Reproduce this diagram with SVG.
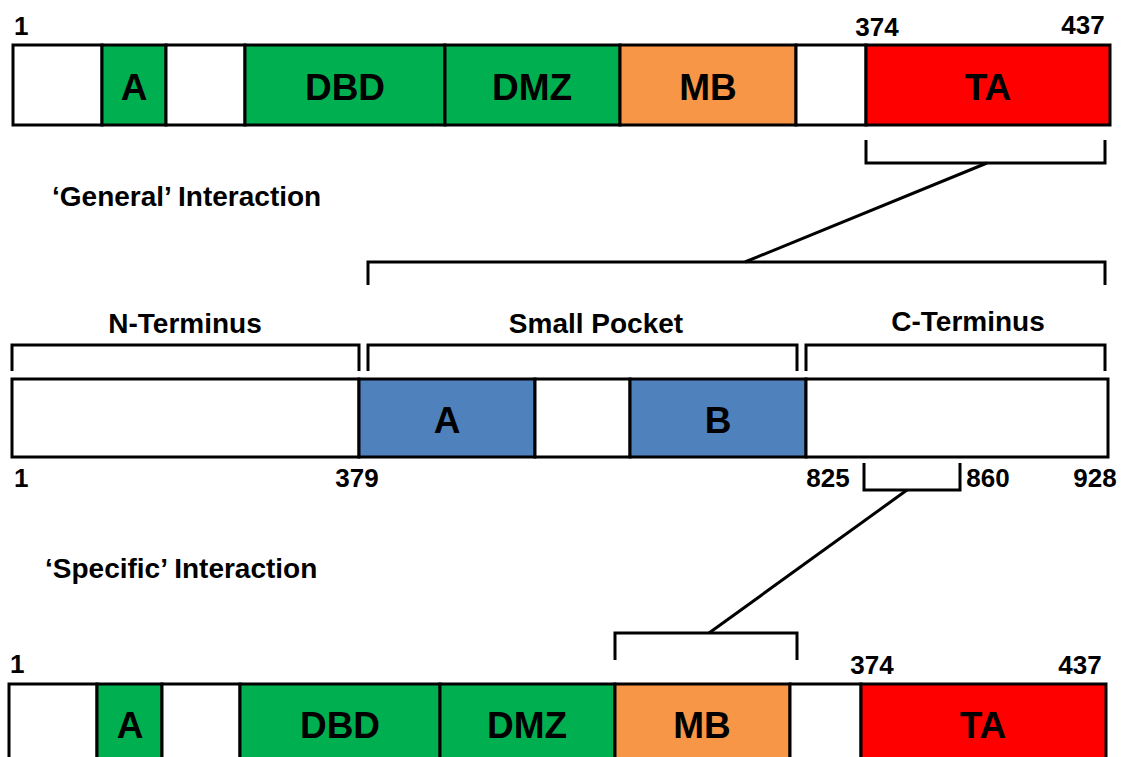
<svg xmlns="http://www.w3.org/2000/svg" width="1121" height="757" viewBox="0 0 1121 757">
<style>
.seg{stroke:#000;stroke-width:3}
.w{fill:#fff}.g{fill:#00B050}.o{fill:#F79646}.r{fill:#FF0000}.b{fill:#4F81BD}
.lbl{font-family:"Liberation Sans",Arial,sans-serif;font-weight:bold;font-size:37px;text-anchor:middle;fill:#000}
.num{font-family:"Liberation Sans",Arial,sans-serif;font-weight:bold;font-size:26px;fill:#000}
.t{font-family:"Liberation Sans",Arial,sans-serif;font-weight:bold;font-size:28px;fill:#000}
.br{fill:none;stroke:#000;stroke-width:3}
</style>
<rect width="1121" height="757" fill="#fff"/>
<g id="top-protein">
<rect class="seg w" x="13" y="45" width="89" height="80"/>
<rect class="seg g" x="102" y="45" width="64" height="80"/>
<rect class="seg w" x="166" y="45" width="79" height="80"/>
<rect class="seg g" x="245" y="45" width="200" height="80"/>
<rect class="seg g" x="445" y="45" width="175" height="80"/>
<rect class="seg o" x="620" y="45" width="176" height="80"/>
<rect class="seg w" x="796" y="45" width="70" height="80"/>
<rect class="seg r" x="866" y="45" width="244" height="80"/>
<text class="lbl" x="134" y="100">A</text>
<text class="lbl" x="345" y="100">DBD</text>
<text class="lbl" x="532" y="100">DMZ</text>
<text class="lbl" x="708" y="100">MB</text>
<text class="lbl" x="988" y="100">TA</text>
<text class="num" x="14" y="35">1</text>
<text class="num" x="877" y="36" text-anchor="middle">374</text>
<text class="num" x="1083" y="34" text-anchor="middle">437</text>
</g>
<g id="middle-protein">
<rect class="seg w" x="12" y="379" width="347" height="78"/>
<rect class="seg b" x="359" y="379" width="176" height="78"/>
<rect class="seg w" x="535" y="379" width="95" height="78"/>
<rect class="seg b" x="630" y="379" width="176" height="78"/>
<rect class="seg w" x="806" y="379" width="302" height="78"/>
<text class="lbl" x="447" y="433">A</text>
<text class="lbl" x="718" y="433">B</text>
<text class="num" x="14" y="487">1</text>
<text class="num" x="357" y="487" text-anchor="middle">379</text>
<text class="num" x="828" y="487" text-anchor="middle">825</text>
<text class="num" x="988" y="487" text-anchor="middle">860</text>
<text class="num" x="1095" y="487" text-anchor="middle">928</text>
<text class="t" x="185" y="333" text-anchor="middle">N-Terminus</text>
<text class="t" x="596" y="333" text-anchor="middle">Small Pocket</text>
<text class="t" x="968" y="331" text-anchor="middle">C-Terminus</text>
<path class="br" d="M12 371V345H359V371"/>
<path class="br" d="M368 371V345H797V371"/>
<path class="br" d="M806 371V345H1105V371"/>
</g>
<g id="bottom-protein">
<rect class="seg w" x="9" y="684" width="88" height="80"/>
<rect class="seg g" x="97" y="684" width="65" height="80"/>
<rect class="seg w" x="162" y="684" width="78" height="80"/>
<rect class="seg g" x="240" y="684" width="200" height="80"/>
<rect class="seg g" x="440" y="684" width="175" height="80"/>
<rect class="seg o" x="615" y="684" width="175" height="80"/>
<rect class="seg w" x="790" y="684" width="71" height="80"/>
<rect class="seg r" x="861" y="684" width="245" height="80"/>
<text class="lbl" x="130" y="738">A</text>
<text class="lbl" x="340" y="738">DBD</text>
<text class="lbl" x="527" y="738">DMZ</text>
<text class="lbl" x="702" y="738">MB</text>
<text class="lbl" x="983" y="738">TA</text>
<text class="num" x="10" y="673">1</text>
<text class="num" x="872" y="674" text-anchor="middle">374</text>
<text class="num" x="1080" y="674" text-anchor="middle">437</text>
</g>
<g id="labels">
<text class="t" x="52" y="206">‘General’ Interaction</text>
<text class="t" x="45" y="578">‘Specific’ Interaction</text>
</g>
<g id="connectors">
<path class="br" d="M866 140V163H1105V140"/>
<path class="br" d="M987 163L745 262"/>
<path class="br" d="M368 285V262H1105V285"/>
<path class="br" d="M864 463V490H960V463"/>
<path class="br" d="M907 490L709 633"/>
<path class="br" d="M615 660V633H797V660"/>
</g>
</svg>
